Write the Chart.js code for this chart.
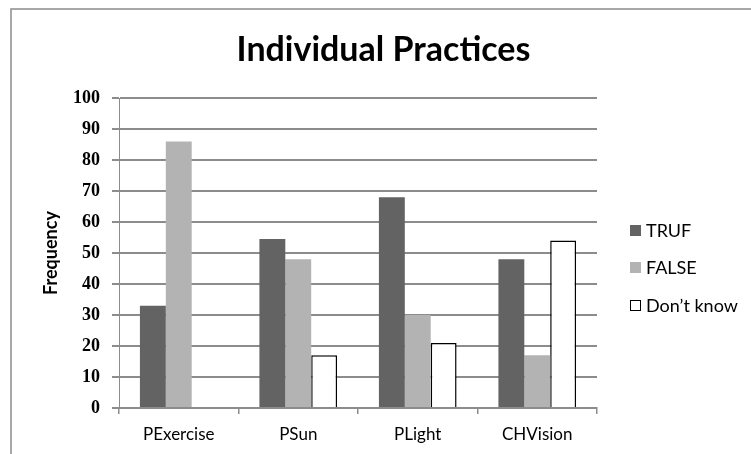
<!DOCTYPE html>
<html><head><meta charset="utf-8">
<script src="https://cdn.jsdelivr.net/npm/chart.js@4/dist/chart.umd.min.js"></script>
<style>html,body{margin:0;padding:0;background:#fff}#wrap{width:751px;height:454px;position:relative}</style>
</head><body><div id="wrap"><canvas id="c" width="751" height="454"></canvas></div>
<script>
const categories = ['PExercise', 'PSun', 'PLight', 'CHVision'];
const seriesNames = ['TRUF', 'FALSE', 'Don\u2019t know'];
const trueValues = [33, 54.5, 68, 48];
const falseValues = [86, 48, 30, 17];
const dontKnowValues = [0, 17, 21, 54];
const yTickValues = [0, 10, 20, 30, 40, 50, 60, 70, 80, 90, 100];
const chartTitle = 'Individual Practices';
const yTitle = 'Frequency';

const frame = {
  id: 'frame',
  beforeDraw(chart) {
    const ctx = chart.ctx;
    ctx.save();
    ctx.fillStyle = '#fff';
    ctx.fillRect(0, 0, chart.width, chart.height);
    ctx.strokeStyle = '#8c8c8c';
    ctx.lineWidth = 1.5;
    ctx.beginPath();
    ctx.moveTo(11, chart.height);
    ctx.lineTo(11, 9);
    ctx.lineTo(chart.width, 9);
    ctx.stroke();
    ctx.restore();
  }
};

const sideLegend = {
  id: 'sideLegend',
  afterDraw(chart) {
    const ctx = chart.ctx;
    const x = chart.chartArea.right + 33;
    const ys = [230.5, 267.5, 305.5];
    ctx.save();
    ctx.font = '18px Lato, sans-serif';
    ctx.textBaseline = 'middle';
    ctx.textAlign = 'left';
    chart.data.datasets.forEach((ds, i) => {
      const y = ys[i];
      ctx.fillStyle = ds.backgroundColor;
      ctx.fillRect(x, y - 5.5, 11, 11);
      if (ds.borderWidth) {
        ctx.strokeStyle = ds.borderColor;
        ctx.lineWidth = 1;
        ctx.strokeRect(x + 0.5, y - 5, 10, 10);
      }
      ctx.fillStyle = '#000';
      ctx.fillText(ds.label, x + 16, y + 1);
    });
    ctx.restore();
  }
};

new Chart(document.getElementById('c'), {
  type: 'bar',
  data: {
    labels: categories,
    datasets: [
      { label: seriesNames[0], data: trueValues, backgroundColor: '#636363', borderWidth: 0 },
      { label: seriesNames[1], data: falseValues, backgroundColor: '#b3b3b3', borderWidth: 0 },
      { label: seriesNames[2], data: dontKnowValues, backgroundColor: '#ffffff', borderColor: '#000000', borderWidth: 1.5 }
    ]
  },
  options: {
    responsive: false,
    animation: false,
    devicePixelRatio: 1,
    layout: { padding: { left: 16, right: 0, top: 0, bottom: 0 } },
    datasets: { bar: { categoryPercentage: 0.65, barPercentage: 1.0 } },
    plugins: {
      legend: { display: false },
      tooltip: { enabled: false },
      title: {
        display: true,
        text: chartTitle,
        color: '#000',
        font: { family: 'Lato, sans-serif', size: 34, weight: 'bold' },
        padding: { top: 30, bottom: 27.2 }
      }
    },
    scales: {
      x: {
        afterFit(s) { s.height = 46; },
        grid: { offset: true, drawOnChartArea: false, drawTicks: true, tickLength: 6, color: '#8c8c8c', lineWidth: 1.5 },
        border: { color: '#8c8c8c', width: 2 },
        ticks: { color: '#000', padding: 10, font: { family: 'Lato, sans-serif', size: 17 } }
      },
      y: {
        min: 0, max: 100,
        afterFit(s) { s.width = 103; },
        afterBuildTicks(s) { s.ticks = yTickValues.map(v => ({ value: v })); },
        grid: { color: '#8c8c8c', lineWidth: 2, tickLength: 7 },
        border: { color: '#8c8c8c', width: 1 },
        ticks: { color: '#000', padding: 12, font: { family: '"Liberation Serif", serif', size: 18, weight: 'bold' } },
        title: {
          display: true, text: yTitle, color: '#000',
          font: { family: 'Lato, sans-serif', size: 18, weight: 'bold' },
          padding: { top: 24, bottom: 0 }
        }
      },
      spacer: {
        type: 'linear',
        position: 'right',
        display: true,
        afterFit(s) { s.width = 154; },
        grid: { display: false, drawTicks: false },
        border: { display: false },
        ticks: { display: false }
      }
    }
  },
  plugins: [frame, sideLegend]
});
</script></body></html>
